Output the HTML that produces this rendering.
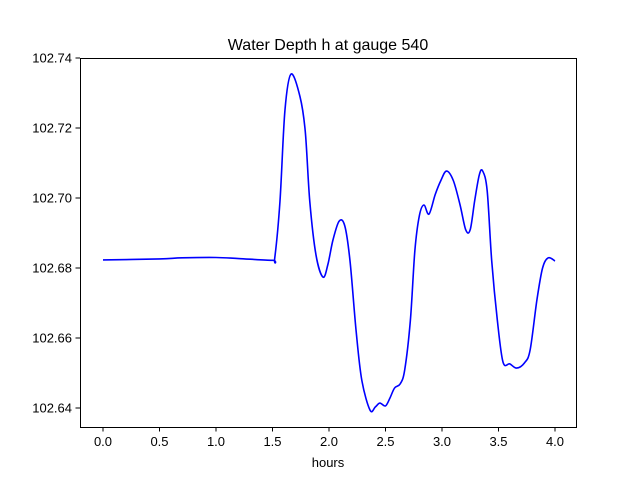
<!DOCTYPE html>
<html><head><meta charset="utf-8"><style>
body{margin:0;background:#fff}
svg{display:block;font-family:"Liberation Sans","DejaVu Sans",sans-serif}
</style></head><body>
<svg id="chart" width="640" height="480" viewBox="0 0 640 480">
<rect width="640" height="480" fill="#fff"/>
<text x="328" y="50" font-size="16" text-anchor="middle">Water Depth h at gauge 540</text>
<g id="axes"></g>
<path id="line" fill="none" stroke="#0000ff" stroke-width="1.6"/>
<rect x="80.5" y="58.5" width="496" height="369" fill="none" stroke="#000" stroke-width="1"/>
<text x="328" y="467" font-size="13" text-anchor="middle">hours</text>
</svg>
<script>
const hours=[0,0.5,0.7,1.0,1.2,1.5,1.52,1.566,1.61,1.664,1.743,1.79,1.83,1.885,1.947,1.99,2.035,2.09,2.14,2.186,2.24,2.29,2.363,2.41,2.45,2.5,2.54,2.58,2.63,2.67,2.72,2.76,2.8,2.84,2.885,2.94,2.99,3.04,3.1,3.16,3.21,3.25,3.29,3.33,3.36,3.4,3.44,3.49,3.54,3.6,3.66,3.73,3.78,3.84,3.89,3.94,4.0];
const depth=[102.6823,102.6826,102.6829,102.683,102.6827,102.6822,102.6829,102.699,102.725,102.7354,102.729,102.719,102.699,102.6837,102.6774,102.681,102.688,102.6934,102.692,102.682,102.662,102.648,102.6394,102.6403,102.6414,102.6406,102.6429,102.6457,102.6469,102.6509,102.665,102.685,102.695,102.698,102.6954,102.701,102.705,102.7077,102.705,102.698,102.6909,102.691,102.6994,102.7066,102.7077,102.702,102.682,102.665,102.6531,102.6526,102.6514,102.6529,102.6566,102.6709,102.68,102.6829,102.682];
const xTicks=[0,0.5,1.0,1.5,2.0,2.5,3.0,3.5,4.0];
const yTicks=[102.64,102.66,102.68,102.70,102.72,102.74];
const X=v=>103+v*113;
const Y=v=>58+(102.74-v)*3500;
const ns="http://www.w3.org/2000/svg";
const g=document.getElementById('axes');
function mk(t,a){const e=document.createElementNS(ns,t);for(const k in a)e.setAttribute(k,a[k]);g.appendChild(e);return e;}
xTicks.forEach(v=>{
  const l=mk('line',{x1:X(v),x2:X(v),y1:427,y2:431.5,stroke:'#000'});
  
  
  const t=mk('text',{x:X(v),y:446,'font-size':13,'text-anchor':'middle'});
  t.textContent=v.toFixed(1);
  
  
});
yTicks.forEach(v=>{
  const l=mk('line',{x1:75.5,x2:80,y1:Y(v),y2:Y(v),stroke:'#000'});
  
  
  const t=mk('text',{x:72,y:Y(v)+4.5,'font-size':13,'text-anchor':'end'});
  t.textContent=v.toFixed(2);
  
  
});
const P=hours.map((h,i)=>[X(h),Y(depth[i])]);
let d='M'+P[0][0]+','+P[0][1];
for(let i=0;i<P.length-1;i++){
  const p0=P[Math.max(i-1,0)],p1=P[i],p2=P[i+1],p3=P[Math.min(i+2,P.length-1)];
  const c1=[p1[0]+(p2[0]-p0[0])/6,p1[1]+(p2[1]-p0[1])/6];
  const c2=[p2[0]-(p3[0]-p1[0])/6,p2[1]-(p3[1]-p1[1])/6];
  d+=`C${c1[0]},${c1[1]} ${c2[0]},${c2[1]} ${p2[0]},${p2[1]}`;
}
document.getElementById('line').setAttribute('d',d);
</script>
</body></html>
